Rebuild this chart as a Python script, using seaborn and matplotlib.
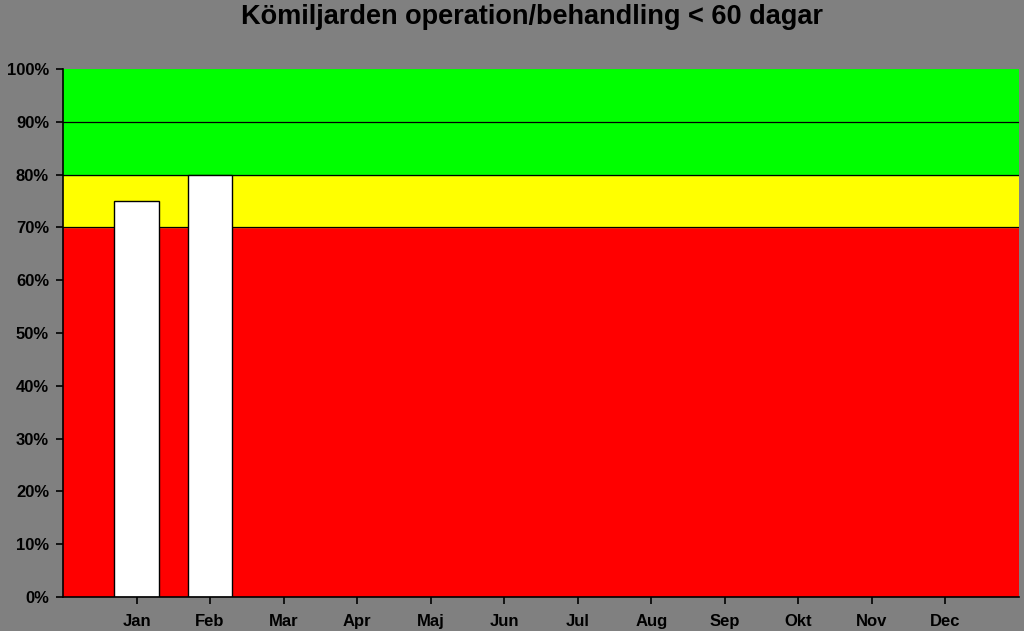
import numpy as np
import pandas as pd
import seaborn as sns
import matplotlib.pyplot as plt
from matplotlib.ticker import PercentFormatter

# Chart data
months = ['Jan', 'Feb', 'Mar', 'Apr', 'Maj', 'Jun', 'Jul', 'Aug', 'Sep', 'Okt', 'Nov', 'Dec']
share = [0.75, 0.80, np.nan, np.nan, np.nan, np.nan, np.nan, np.nan, np.nan, np.nan, np.nan, np.nan]
red_limit = 0.70
yellow_limit = 0.80
green_limit = 1.00

df = pd.DataFrame({'month': months, 'share': share})

sns.set_style('white')
plt.rcParams['font.family'] = ['Liberation Sans', 'DejaVu Sans']

fig = plt.figure(figsize=(10.24, 6.31), dpi=100, facecolor='#808080')
ax = fig.add_axes([0.0615, 0.0539, 0.9335, 0.8367])
ax.set_facecolor('#808080')

# Target bands
ax.axhspan(0, red_limit, color='#ff0000', zorder=0)
ax.axhspan(red_limit, yellow_limit, color='#ffff00', zorder=0)
ax.axhspan(yellow_limit, green_limit, color='#00ff00', zorder=0)
for y in [0.7, 0.8, 0.9]:
    ax.axhline(y, color='black', lw=0.9, zorder=1)

sns.barplot(data=df, x='month', y='share', order=months, color='white',
            width=0.61, edgecolor='black', linewidth=1.0, saturation=1, ax=ax, zorder=2)

ax.set_xlim(-1, 12)
ax.set_ylim(0, 1.0)
ax.set_yticks(np.arange(0, 1.01, 0.1))
ax.yaxis.set_major_formatter(PercentFormatter(1.0, decimals=0))
ax.set_xlabel('')
ax.set_ylabel('')

for side in ['top', 'right']:
    ax.spines[side].set_visible(False)
for side in ['left', 'bottom']:
    ax.spines[side].set_color('black')
    ax.spines[side].set_linewidth(1.2)
    ax.spines[side].set_zorder(3)

ax.tick_params(axis='both', direction='out', length=5, width=1.2, color='black',
               labelsize=12, labelcolor='black', left=True, bottom=True)
ax.tick_params(axis='y', pad=5)
ax.tick_params(axis='x', pad=7)
for lbl in ax.get_xticklabels() + ax.get_yticklabels():
    lbl.set_fontweight('bold')

fig.text(0.52, 0.973, 'Kömiljarden operation/behandling < 60 dagar', ha='center', va='center',
         fontsize=19.5, fontweight='bold', color='black')

fig.savefig('out.png', dpi=100, facecolor=fig.get_facecolor())
